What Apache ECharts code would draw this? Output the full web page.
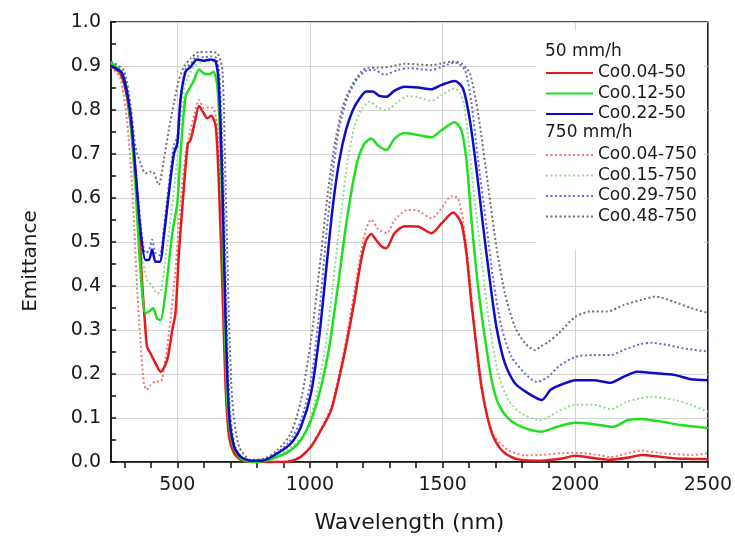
<!DOCTYPE html>
<html>
<head>
<meta charset="utf-8">
<script src="https://cdn.jsdelivr.net/npm/echarts@6/dist/echarts.min.js"></script>
<style>
  html, body { margin: 0; padding: 0; background: #fff; }
  #chart { width: 735px; height: 539px; }
</style>
</head>
<body>
<div id="chart"></div>
<script>
// tick / label values
const xLabelValues = [500, 1000, 1500, 2000, 2500];
const xTickValues = [300, 400, 500, 600, 700, 800, 900, 1000, 1100, 1200, 1300, 1400, 1500,
    1600, 1700, 1800, 1900, 2000, 2100, 2200, 2300, 2400, 2500];
const xGridValues = [500, 1000, 1500, 2000];
const yLabelValues = [0, 0.1, 0.2, 0.3, 0.4, 0.5, 0.6, 0.7, 0.8, 0.9, 1.0];
const yTickValues = [0, 0.05, 0.1, 0.15, 0.2, 0.25, 0.3, 0.35, 0.4, 0.45, 0.5,
    0.55, 0.6, 0.65, 0.7, 0.75, 0.8, 0.85, 0.9, 0.95, 1.0];

const groupHeaders = ["50 mm/h", "750 mm/h"];
const names50 = ["Co0.04-50", "Co0.12-50", "Co0.22-50"];
const names750 = ["Co0.04-750", "Co0.15-750", "Co0.29-750", "Co0.48-750"];

// [wavelength nm, emittance]
const co004_50 = [[250,0.90],[285,0.883],[310,0.83],[336,0.70],[355,0.55],[367,0.41],[380,0.30],[386,0.262],[399,0.247],[418,0.224],[437,0.205],[462,0.232],[481,0.30],[493,0.338],[506,0.474],[525,0.626],[540,0.724],[550,0.732],[565,0.77],[582,0.809],[600,0.792],[613,0.781],[628,0.787],[645,0.762],[657,0.626],[670,0.398],[682,0.171],[695,0.058],[714,0.02],[739,0.005],[800,0.0],[900,0.0],[928,0.002],[966,0.012],[1004,0.035],[1042,0.073],[1080,0.118],[1117,0.209],[1143,0.285],[1168,0.368],[1193,0.459],[1212,0.504],[1231,0.518],[1250,0.504],[1270,0.49],[1288,0.486],[1319,0.52],[1357,0.536],[1407,0.535],[1458,0.52],[1496,0.542],[1540,0.567],[1571,0.542],[1590,0.474],[1609,0.36],[1628,0.262],[1647,0.171],[1672,0.095],[1697,0.05],[1735,0.02],[1785,0.006],[1874,0.003],[1950,0.008],[2000,0.014],[2080,0.008],[2130,0.005],[2200,0.01],[2250,0.016],[2320,0.012],[2380,0.008],[2440,0.007],[2500,0.006]];
const co012_50 = [[250,0.908],[298,0.876],[323,0.777],[342,0.626],[361,0.436],[380,0.338],[399,0.345],[409,0.35],[424,0.326],[437,0.323],[455,0.383],[481,0.52],[500,0.588],[512,0.70],[531,0.83],[550,0.853],[563,0.868],[582,0.892],[600,0.883],[619,0.881],[636,0.887],[651,0.853],[664,0.70],[676,0.398],[689,0.133],[708,0.042],[739,0.008],[790,0.0],[830,0.003],[878,0.012],[928,0.027],[966,0.05],[1004,0.095],[1042,0.171],[1073,0.262],[1105,0.398],[1130,0.512],[1155,0.61],[1180,0.686],[1206,0.724],[1231,0.735],[1256,0.72],[1288,0.709],[1319,0.735],[1357,0.748],[1407,0.743],[1458,0.738],[1496,0.754],[1546,0.772],[1571,0.754],[1590,0.686],[1609,0.55],[1634,0.398],[1659,0.285],[1685,0.186],[1710,0.133],[1748,0.099],[1798,0.08],[1874,0.069],[1932,0.08],[2001,0.089],[2070,0.086],[2146,0.08],[2196,0.095],[2247,0.098],[2323,0.092],[2398,0.084],[2500,0.077]];
const co022_50 = [[250,0.90],[292,0.883],[323,0.792],[342,0.664],[361,0.527],[380,0.459],[393,0.459],[405,0.483],[418,0.455],[434,0.455],[449,0.512],[468,0.61],[487,0.70],[500,0.724],[512,0.823],[531,0.887],[550,0.898],[575,0.915],[600,0.912],[626,0.915],[645,0.91],[657,0.853],[670,0.626],[682,0.323],[695,0.11],[714,0.035],[739,0.012],[777,0.003],[820,0.003],[878,0.02],[928,0.042],[966,0.08],[1004,0.156],[1035,0.285],[1061,0.436],[1086,0.58],[1111,0.686],[1136,0.755],[1162,0.80],[1187,0.826],[1212,0.842],[1237,0.842],[1262,0.832],[1288,0.83],[1319,0.844],[1357,0.853],[1407,0.851],[1458,0.847],[1496,0.857],[1546,0.866],[1577,0.849],[1603,0.777],[1628,0.664],[1653,0.535],[1678,0.414],[1703,0.307],[1735,0.224],[1773,0.179],[1823,0.156],[1874,0.141],[1907,0.164],[1944,0.175],[2001,0.186],[2070,0.186],[2133,0.18],[2184,0.194],[2234,0.205],[2297,0.202],[2373,0.198],[2436,0.188],[2500,0.186]];
const co004_750 = [[250,0.898],[285,0.872],[310,0.777],[330,0.626],[348,0.398],[361,0.277],[374,0.179],[384,0.164],[399,0.175],[418,0.183],[437,0.183],[455,0.232],[474,0.323],[493,0.436],[512,0.588],[531,0.70],[550,0.755],[565,0.792],[582,0.823],[600,0.804],[619,0.806],[636,0.804],[651,0.762],[664,0.588],[676,0.36],[689,0.148],[708,0.042],[739,0.005],[800,0.0],[900,0.0],[940,0.005],[966,0.014],[1004,0.035],[1042,0.075],[1080,0.125],[1117,0.22],[1143,0.30],[1168,0.39],[1193,0.48],[1212,0.53],[1231,0.551],[1256,0.53],[1290,0.52],[1319,0.55],[1370,0.573],[1407,0.571],[1458,0.554],[1496,0.577],[1533,0.604],[1559,0.599],[1584,0.52],[1603,0.414],[1622,0.292],[1641,0.186],[1666,0.11],[1697,0.057],[1748,0.027],[1811,0.015],[1869,0.016],[1950,0.02],[2000,0.021],[2100,0.015],[2130,0.011],[2200,0.02],[2247,0.026],[2320,0.02],[2373,0.018],[2440,0.016],[2500,0.02]];
const co015_750 = [[250,0.91],[298,0.883],[330,0.74],[348,0.588],[367,0.474],[386,0.414],[405,0.40],[424,0.383],[437,0.387],[455,0.459],[474,0.55],[493,0.648],[512,0.777],[531,0.86],[563,0.898],[600,0.91],[640,0.91],[655,0.87],[668,0.68],[680,0.38],[692,0.13],[712,0.04],[740,0.01],[790,0.002],[850,0.008],[920,0.03],[979,0.065],[1017,0.133],[1054,0.247],[1086,0.398],[1117,0.565],[1143,0.686],[1168,0.762],[1193,0.80],[1225,0.819],[1256,0.806],[1288,0.80],[1332,0.819],[1370,0.832],[1407,0.829],[1458,0.821],[1496,0.834],[1546,0.849],[1577,0.823],[1596,0.74],[1622,0.588],[1647,0.459],[1678,0.307],[1710,0.201],[1748,0.141],[1798,0.11],[1869,0.095],[1932,0.114],[2001,0.13],[2070,0.13],[2133,0.12],[2196,0.137],[2285,0.148],[2373,0.141],[2436,0.13],[2500,0.114]];
const co029_750 = [[250,0.905],[292,0.885],[323,0.80],[342,0.68],[361,0.545],[380,0.475],[393,0.48],[405,0.505],[418,0.475],[434,0.47],[449,0.53],[468,0.63],[487,0.72],[500,0.74],[512,0.83],[531,0.893],[550,0.905],[575,0.922],[600,0.92],[626,0.922],[648,0.918],[661,0.86],[674,0.63],[686,0.33],[699,0.115],[718,0.035],[745,0.01],[790,0.003],[850,0.01],[920,0.045],[966,0.095],[1004,0.186],[1035,0.338],[1061,0.512],[1086,0.656],[1111,0.762],[1143,0.83],[1180,0.872],[1218,0.891],[1244,0.891],[1281,0.88],[1332,0.891],[1370,0.895],[1458,0.891],[1496,0.898],[1546,0.908],[1584,0.891],[1609,0.815],[1634,0.686],[1666,0.535],[1691,0.414],[1722,0.307],[1760,0.239],[1811,0.201],[1855,0.182],[1899,0.194],[1937,0.217],[2001,0.239],[2070,0.243],[2133,0.243],[2184,0.255],[2247,0.268],[2285,0.271],[2348,0.266],[2411,0.258],[2500,0.251]];
const co048_750 = [[250,0.91],[298,0.89],[323,0.815],[342,0.717],[361,0.679],[380,0.656],[399,0.66],[411,0.658],[430,0.63],[449,0.686],[468,0.755],[487,0.815],[506,0.868],[525,0.898],[550,0.917],[582,0.932],[613,0.932],[651,0.929],[670,0.89],[682,0.626],[695,0.323],[708,0.133],[733,0.035],[777,0.005],[830,0.008],[878,0.027],[928,0.065],[966,0.14],[1004,0.277],[1035,0.436],[1067,0.61],[1092,0.717],[1124,0.808],[1155,0.853],[1193,0.887],[1218,0.896],[1256,0.896],[1307,0.899],[1357,0.905],[1458,0.902],[1496,0.906],[1533,0.91],[1571,0.906],[1603,0.883],[1634,0.792],[1672,0.626],[1703,0.489],[1735,0.383],[1773,0.307],[1811,0.27],[1849,0.254],[1869,0.262],[1899,0.273],[1937,0.292],[2001,0.33],[2058,0.342],[2121,0.342],[2184,0.357],[2247,0.368],[2304,0.376],[2373,0.364],[2436,0.35],[2500,0.339]];

const data50 = [co004_50, co012_50, co022_50];
const data750 = [co004_750, co015_750, co029_750, co048_750];
const colors50 = ["#e41a1c", "#1ee01e", "#0c0cc8"];
const colors750 = ["#ee7a7a", "#8ee08e", "#6a6ad2", "#6e6e78"];

const FONT = "DejaVu Sans";
const chart = echarts.init(document.getElementById("chart"), null, { renderer: "canvas" });

const series = [];
names50.forEach((n, i) => {
    series.push({
        name: n,
        type: "line",
        data: data50[i],
        symbol: "none",
        smooth: 0.25,
        z: 3,
        lineStyle: { color: colors50[i], width: 2.5 },
        itemStyle: { color: colors50[i] }
    });
});
names750.forEach((n, i) => {
    series.push({
        name: n,
        type: "line",
        data: data750[i],
        symbol: "none",
        smooth: 0.25,
        z: 2,
        lineStyle: { color: colors750[i], width: 2, type: [2, 2.5] },
        itemStyle: { color: colors750[i] }
    });
});

const legendBase = {
    orient: "vertical",
    left: 545,
    padding: 0,
    itemWidth: 47,
    itemHeight: 14,
    itemGap: 3.5,
    itemStyle: { opacity: 0 },
    textStyle: { fontFamily: FONT, fontSize: 17, color: "#1a1a1a", lineHeight: 17 },
    z: 6
};

chart.setOption({
    backgroundColor: "#fff",
    animation: false,
    grid: { left: 111, right: 27, top: 22, bottom: 77, show: true, borderColor: "#111", borderWidth: 1.5 },
    legend: [
        Object.assign({}, legendBase, { top: 64.5, data: names50 }),
        Object.assign({}, legendBase, { top: 146.5, data: names750 })
    ],
    graphic: [
        { type: "rect", left: 536, top: 30, z: 5, shape: { width: 168, height: 220 }, style: { fill: "#fff" } },
        { type: "text", left: 545, top: 43.5, z: 6, style: { text: groupHeaders[0], font: "17px 'DejaVu Sans'", fill: "#1a1a1a" } },
        { type: "text", left: 545, top: 124.5, z: 6, style: { text: groupHeaders[1], font: "17px 'DejaVu Sans'", fill: "#1a1a1a" } }
    ],
    xAxis: [
        {
            type: "value",
            min: 250,
            max: 2500,
            name: "Wavelength (nm)",
            nameLocation: "middle",
            nameGap: 50,
            nameTextStyle: { fontFamily: FONT, fontSize: 22, color: "#1a1a1a" },
            axisLine: { show: true, lineStyle: { color: "#111", width: 1.5 } },
            axisTick: { show: true, inside: false, length: 6, customValues: xTickValues, lineStyle: { color: "#111", width: 1.5 } },
            axisLabel: { customValues: xLabelValues, margin: 14, fontFamily: FONT, fontSize: 19, color: "#1a1a1a", formatter: v => String(v) },
            splitLine: { show: false }
        },
        {
            // vertical grid lines only
            type: "value",
            min: 250,
            max: 2500,
            position: "bottom",
            axisLine: { show: false },
            axisTick: { show: false, customValues: xGridValues },
            axisLabel: { show: false },
            splitLine: { show: true, lineStyle: { color: "#d4d4d4", width: 1 } }
        }
    ],
    yAxis: [
        {
            type: "value",
            min: 0,
            max: 1,
            interval: 0.1,
            name: "Emittance",
            nameLocation: "middle",
            nameGap: 70,
            nameTextStyle: { fontFamily: FONT, fontSize: 20, color: "#1a1a1a", padding: [0, 38, 0, 0] },
            axisLine: { show: true, lineStyle: { color: "#111", width: 1.5 } },
            axisTick: { show: true, inside: true, length: 5, customValues: yTickValues, lineStyle: { color: "#111", width: 1.5 } },
            axisLabel: { customValues: yLabelValues, margin: 10, fontFamily: FONT, fontSize: 19, color: "#1a1a1a", formatter: v => v.toFixed(1) },
            splitLine: { show: false }
        },
        {
            // horizontal grid lines only
            type: "value",
            min: 0,
            max: 1,
            interval: 0.1,
            position: "left",
            axisLine: { show: false },
            axisTick: { show: false },
            axisLabel: { show: false },
            splitLine: { show: true, lineStyle: { color: "#d4d4d4", width: 1 } }
        }
    ],
    series: series
});
</script>
</body>
</html>
